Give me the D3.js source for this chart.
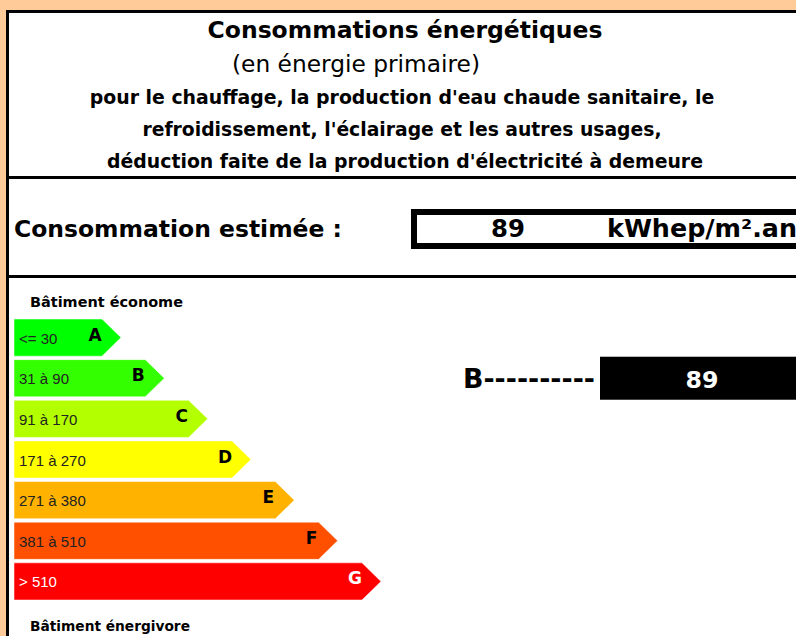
<!DOCTYPE html>
<html><head><meta charset="utf-8">
<script src="https://cdn.jsdelivr.net/npm/d3@7/dist/d3.min.js"></script>
<style>html,body{margin:0;padding:0;background:#fff;overflow:hidden}</style>
</head><body>
<svg id="c" width="796" height="636"></svg>
<script>
const classes = ["A","B","C","D","E","F","G"];
const ranges = ["<= 30","31 à 90","91 à 170","171 à 270","271 à 380","381 à 510","> 510"];
const colors = ["#00FF00","#33FF00","#B3FF00","#FFFF00","#FFB300","#FF5000","#FF0000"];
const labelColors = ["#222","#222","#222","#222","#222","#222","#fff"];
const value = 89;
const valueClass = "B";
const unit = "kWhep/m².an";
const titleLines = ["Consommations énergétiques","(en énergie primaire)","pour le chauffage, la production d'eau chaude sanitaire, le","refroidissement, l'éclairage et les autres usages,","déduction faite de la production d'électricité à demeure"];

const svg = d3.select("#c");
const F = "DejaVu Sans, Verdana, sans-serif";
const F2 = "Liberation Sans, Arial, sans-serif";

// frame
svg.append("rect").attr("x",0).attr("y",0).attr("width",796).attr("height",636).attr("fill","#FFCC99");
svg.append("rect").attr("x",6).attr("y",10).attr("width",790).attr("height",626).attr("fill","#fff");
svg.append("rect").attr("x",6).attr("y",10).attr("width",3).attr("height",626).attr("fill","#000");
svg.append("rect").attr("x",6).attr("y",10).attr("width",790).attr("height",3).attr("fill","#000");
svg.append("rect").attr("x",6).attr("y",176).attr("width",790).attr("height",3).attr("fill","#000");
svg.append("rect").attr("x",6).attr("y",275).attr("width",790).attr("height",3).attr("fill","#000");

function fit(t, w){
  const n = t.node(); const L = n.getComputedTextLength();
  const fs = parseFloat(t.attr("font-size"));
  t.attr("font-size", (fs*w/L).toFixed(2));
}

// title
const tspec = [
  {cx:405, y:38, w:395, fs:24, fw:"bold"},
  {cx:356, y:72, w:248, fs:22, fw:"normal"},
  {cx:402, y:104, w:625, fs:17, fw:"bold"},
  {cx:402, y:136, w:519, fs:17, fw:"bold"},
  {cx:405, y:168, w:596, fs:17, fw:"bold"}
];
titleLines.forEach((s,i)=>{
  const p = tspec[i];
  const t = svg.append("text").attr("x",p.cx).attr("y",p.y).attr("text-anchor","middle")
    .attr("font-family",F).attr("font-weight",p.fw).attr("font-size",p.fs).attr("fill","#000").text(s);
  fit(t,p.w);
});

// estimated consumption
fit(svg.append("text").attr("x",14).attr("y",237).attr("font-family",F).attr("font-weight","bold")
  .attr("font-size",24).text("Consommation estimée :"), 328);
svg.append("rect").attr("x",414).attr("y",212).attr("width",400).attr("height",34)
  .attr("fill","#fff").attr("stroke","#000").attr("stroke-width",6);
fit(svg.append("text").attr("x",508).attr("y",237).attr("text-anchor","middle").attr("font-family",F)
  .attr("font-weight","bold").attr("font-size",22).text(value), 34);
fit(svg.append("text").attr("x",607).attr("y",237).attr("font-family",F)
  .attr("font-weight","bold").attr("font-size",22).text(unit), 190);

// scale
const y = d3.scaleBand().domain(classes).range([319,600]).paddingInner(0.085).paddingOuter(0);
const xEnd = d3.scaleLinear().domain([0,classes.length-1]).range([102,362]);
const x0 = 14, tip = 19;

fit(svg.append("text").attr("x",30).attr("y",307).attr("font-family",F).attr("font-weight","bold")
  .attr("font-size",13).text("Bâtiment économe"), 153);
fit(svg.append("text").attr("x",30).attr("y",631).attr("font-family",F).attr("font-weight","bold")
  .attr("font-size",13).text("Bâtiment énergivore"), 160);

const g = svg.append("g").selectAll("g").data(classes).join("g");
g.append("path").attr("d",(d,i)=>{
  const t=y(d), h=y.bandwidth(), e=xEnd(i);
  return `M${x0},${t}H${e}L${e+tip},${t+h/2}L${e},${t+h}H${x0}Z`;
}).attr("fill",(d,i)=>colors[i]).attr("stroke","rgba(255,255,255,0.5)").attr("stroke-width",1);
g.append("text").attr("x",19).attr("y",d=>y(d)+y.bandwidth()/2+6)
  .attr("font-family",F2).attr("font-size",15).attr("fill",(d,i)=>labelColors[i])
  .text((d,i)=>ranges[i]);
g.append("text").attr("x",(d,i)=>xEnd(i)-7).attr("y",d=>y(d)+y.bandwidth()/2+3)
  .attr("text-anchor","middle").attr("font-family",F).attr("font-weight","bold").attr("font-size",17)
  .attr("fill",(d,i)=>i===6?"#fff":"#000").text(d=>d);

// marker
const cy = y(valueClass)+y.bandwidth()/2;
fit(svg.append("text").attr("x",463).attr("y",cy+10).attr("font-family",F).attr("font-weight","bold")
  .attr("font-size",22).text(valueClass+"----------"), 132);
svg.append("rect").attr("x",600).attr("y",cy-21.5).attr("width",200).attr("height",43).attr("fill","#000");
fit(svg.append("text").attr("x",702).attr("y",cy+10).attr("text-anchor","middle").attr("font-family",F)
  .attr("font-weight","bold").attr("font-size",22).attr("fill","#fff").text(value), 33);
</script>
</body></html>
